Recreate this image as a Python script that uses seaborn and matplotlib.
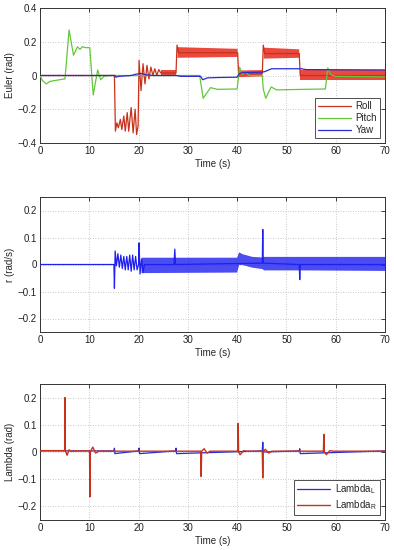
import numpy as np
import matplotlib
matplotlib.use("Agg")
import matplotlib.pyplot as plt
import seaborn as sns

# ------------------------------------------------------------
# Data (time in s, values in rad / rad/s)
# ------------------------------------------------------------
nan = np.nan

# --- Euler angles ---
roll_t = [0, 15.1, 15.3, 15.6, 15.9, 16.3, 16.6, 17.0, 17.3, 17.7, 18.0, 18.5, 18.9, 19.3, 19.6, 19.9,
          20.1, 20.5, 20.9, 21.3, 21.7, 22.1, 22.5, 22.9, 23.3, 23.7, 24.1, 24.5, 27.6,
          27.8, 28.1, 40.1, 40.3, 45.1, 45.3, 45.6, 52.6, 52.8, 70]
roll_v = [0, 0, -0.33, -0.28, -0.31, -0.26, -0.32, -0.24, -0.33, -0.22, -0.33, -0.19, -0.34, -0.2, -0.35, -0.3,
          0.09, -0.09, 0.07, -0.05, 0.06, -0.02, 0.05, 0.0, 0.04, 0.0, 0.035, 0.015, 0.015,
          0.18, 0.135, 0.135, 0.01, 0.01, 0.18, 0.13, 0.13, 0.0, 0.0]
# dense oscillation bands of the roll signal (NaN = gap)
roll_band_t = [24.5, 27.6, nan, 27.9, 40.1, nan, 40.3, 45.1, nan, 45.4, 52.6, nan, 52.8, 70]
roll_band_lo = [0.0, 0.0, nan, 0.105, 0.11, nan, -0.01, -0.005, nan, 0.1, 0.105, nan, -0.025, -0.025]
roll_band_hi = [0.03, 0.03, nan, 0.168, 0.158, nan, 0.03, 0.032, nan, 0.165, 0.155, nan, 0.03, 0.03]

pitch_t = [0, 0.5, 1.3, 2.0, 3.0, 4.0, 5.0, 5.07, 5.9, 6.8, 7.6, 8.1, 8.6, 9.3, 10.1, 10.8, 11.7, 12.3,
           13.0, 14.0, 32.4, 33.1, 34.6, 36.0, 39.8, 40.0, 40.5, 41.0, 41.6, 42.5, 45.1, 45.3,
           45.8, 46.9, 48.0, 57.7, 57.9, 58.4, 59.0, 60.0, 70]
pitch_v = [0, -0.03, -0.05, -0.035, -0.03, -0.025, -0.02, -0.02, 0.27, 0.12, 0.17, 0.155, 0.17, 0.165,
           0.165, -0.115, 0.033, -0.025, -0.005, 0, 0, -0.135, -0.072, -0.082, -0.08, -0.08, 0.05,
           0.005, 0.02, 0.0, 0.0, -0.08, -0.135, -0.068, -0.085, -0.08, -0.08, 0.045, 0.005, -0.005, -0.008]

yaw_t = [0, 15.2, 15.4, 16.0, 18.5, 19.5, 20.5, 21.5, 23.0, 27.7, 28.5, 32.6, 33.0, 34.0, 36.0, 40.0,
         40.4, 41.0, 45.0, 45.5, 47.0, 53.0, 54.0, 70]
yaw_v = [0, 0, -0.01, -0.005, 0.0, 0.008, 0.012, 0.004, 0.0, 0.0, -0.005, -0.005, -0.025, -0.014, -0.012,
         -0.01, 0.01, 0.017, 0.02, 0.022, 0.04, 0.04, 0.035, 0.033]

# --- yaw rate r ---
r_t = [0, 15.0, 15.1, 15.25, 15.5, 15.8, 16.1, 16.4, 16.7, 17.0, 17.3, 17.6, 17.9, 18.2, 18.5, 18.8,
       19.1, 19.4, 19.7, 20.0, 20.1, 20.3, 20.6, 20.9, 21.2, 27.2, 27.35, 27.5, 45.1, 45.2, 45.3,
       52.6, 52.7, 52.8, 70]
r_v = [0, 0, -0.088, 0.05, -0.005, 0.04, -0.01, 0.035, -0.015, 0.03, -0.02, 0.03, -0.02, 0.035, -0.025,
       0.035, -0.02, 0.03, -0.02, 0.0, 0.08, -0.035, 0.02, -0.03, 0.0, 0.0, 0.057, 0.0, 0.005, 0.13,
       0.005, 0.0, -0.056, 0.0, 0.0]
r_band_t = [20.5, 39.9, 40.3, 41.0, 43.0, 45.0, 45.4, 53.0, 70]
r_band_lo = [-0.03, -0.028, 0.0, 0.0, -0.01, -0.015, -0.02, -0.02, -0.022]
r_band_hi = [0.027, 0.027, 0.047, 0.04, 0.03, 0.028, 0.03, 0.03, 0.03]

# --- Lambda ---
lr_t = [0, 5.0, 5.07, 5.15, 5.5, 5.9, 6.4, 7.2, 10.05, 10.12, 10.2, 10.7, 11.3, 12.0, 12.8, 32.6,
        32.7, 32.8, 33.3, 33.9, 34.5, 40.1, 40.2, 40.3, 40.6, 41.3, 42.0, 45.1, 45.2, 45.3, 45.7,
        46.4, 47.0, 57.5, 57.6, 57.7, 58.1, 58.8, 59.5, 70]
lr_v = [0.005, 0.005, 0.2, 0.005, -0.012, 0.008, 0.002, 0.004, 0.004, -0.165, 0.0, 0.018, -0.004,
        0.004, 0.003, 0.003, -0.09, 0.003, 0.012, -0.004, 0.003, 0.003, 0.105, 0.0, -0.01, 0.005,
        0.003, 0.003, -0.095, 0.0, 0.01, -0.004, 0.003, 0.003, 0.065, 0.0, -0.01, 0.005, 0.003, 0.003]
ll_t = [0, 15.0, 15.1, 15.2, 20.0, 20.1, 20.2, 27.5, 27.6, 27.7, 45.1, 45.2, 45.3, 52.6, 52.7, 52.8, 70]
ll_v = [0.004, 0.004, 0.014, -0.006, 0.004, 0.014, -0.006, 0.004, 0.014, -0.006, 0.004, 0.036, 0.0,
        0.004, 0.012, -0.006, 0.004]

x_ticks = [0, 10, 20, 30, 40, 50, 60, 70]
euler_ticks = [-0.4, -0.2, 0, 0.2, 0.4]
euler_labels = ["\u22120.4", "\u22120.2", "0", "0.2", "0.4"]
small_ticks = [-0.2, -0.1, 0, 0.1, 0.2]
small_labels = ["\u22120.2", "\u22120.1", "0", "0.1", "0.2"]

# ------------------------------------------------------------
# Style (MATLAB-like)
# ------------------------------------------------------------
sns.set_theme(style="white")
plt.rcParams["font.family"] = ["Liberation Sans", "DejaVu Sans"]
plt.rcParams["font.size"] = 7
plt.rcParams["xtick.direction"] = "in"
plt.rcParams["ytick.direction"] = "in"

FS = 7
RED = "#c8321a"
GREEN = "#62c83a"
BLUE = "#2a2ad2"
BLUE_R = "#1f1ff0"

fig = plt.figure(figsize=(3.94, 5.5), dpi=100)
W = 345 / 394
L = 40 / 394
ax1 = fig.add_axes([L, 1 - 143 / 550, W, 135 / 550])
ax2 = fig.add_axes([L, 1 - 332 / 550, W, 135 / 550])
ax3 = fig.add_axes([L, 1 - 520 / 550, W, 136 / 550])


def style_axes(ax, yticks, ylabels, ylim, ylabel):
    ax.set_xlim(0, 70)
    ax.set_ylim(*ylim)
    ax.set_xticks(x_ticks)
    ax.set_xticklabels([str(v) for v in x_ticks], fontsize=FS)
    ax.set_yticks(yticks)
    ax.set_yticklabels(ylabels, fontsize=FS)
    ax.grid(True, color="#b8b8b8", linestyle=(0, (1, 2)), linewidth=0.6)
    ax.set_axisbelow(True)
    for s in ax.spines.values():
        s.set_visible(True)
        s.set_color("#333333")
        s.set_linewidth(0.7)
    ax.tick_params(axis="both", which="both", direction="in", length=3, width=0.6,
                   top=True, right=True, pad=2.5, colors="#222222")
    ax.set_xlabel("Time (s)", fontsize=FS, labelpad=1.5)
    ax.set_ylabel(ylabel, fontsize=FS, labelpad=2)
    ax.set_facecolor("white")


# --- Euler ---
ax1.fill_between(roll_band_t, roll_band_lo, roll_band_hi, color="#e8281c", alpha=0.85,
                 linewidth=0, zorder=2)
sns.lineplot(x=roll_t, y=roll_v, ax=ax1, color=RED, linewidth=0.9, estimator=None, sort=False,
             label="Roll", zorder=3)
sns.lineplot(x=pitch_t, y=pitch_v, ax=ax1, color=GREEN, linewidth=0.9, estimator=None, sort=False,
             label="Pitch", zorder=3)
sns.lineplot(x=yaw_t, y=yaw_v, ax=ax1, color=BLUE, linewidth=0.9, estimator=None, sort=False,
             label="Yaw", zorder=4)
style_axes(ax1, euler_ticks, euler_labels, (-0.4, 0.4), "Euler (rad)")

# --- r ---
ax2.fill_between(r_band_t, r_band_lo, r_band_hi, color=BLUE_R, alpha=0.8, linewidth=0, zorder=2)
sns.lineplot(x=r_t, y=r_v, ax=ax2, color=BLUE_R, linewidth=0.9, estimator=None, sort=False, zorder=3)
style_axes(ax2, small_ticks, small_labels, (-0.25, 0.25), "r (rad/s)")

# --- Lambda ---
sns.lineplot(x=ll_t, y=ll_v, ax=ax3, color=BLUE, linewidth=0.9, estimator=None, sort=False,
             label="Lambda$_\\mathregular{L}$", zorder=3)
sns.lineplot(x=lr_t, y=lr_v, ax=ax3, color=RED, linewidth=1.0, estimator=None, sort=False,
             label="Lambda$_\\mathregular{R}$", zorder=4)
style_axes(ax3, small_ticks, small_labels, (-0.25, 0.25), "Lambda (rad)")

for ax in (ax1, ax3):
    leg = ax.legend(loc="lower right", fontsize=FS, frameon=True, fancybox=False,
                    handlelength=3.4, borderaxespad=0.5, borderpad=0.3, labelspacing=0.2,
                    handletextpad=0.5)
    leg.get_frame().set_edgecolor("#333333")
    leg.get_frame().set_linewidth(0.6)
    leg.get_frame().set_alpha(1)

fig.savefig("out.png", dpi=100)
